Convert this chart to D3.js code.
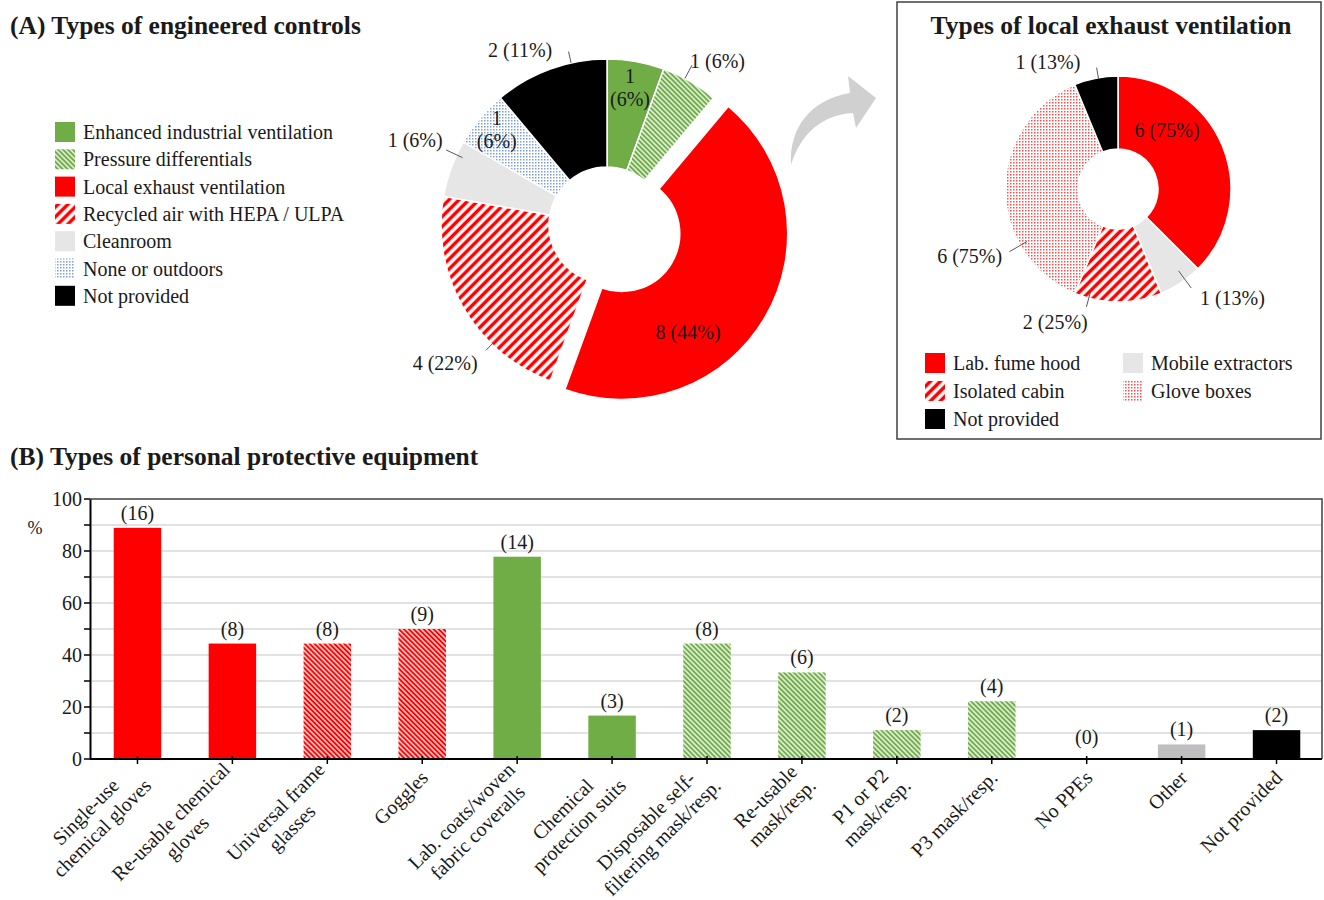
<!DOCTYPE html>
<html>
<head>
<meta charset="utf-8">
<script src="https://cdn.jsdelivr.net/npm/d3@7"></script>
<style>
body { margin: 0; background: #fff; }
text { font-family: "Liberation Serif", "Times New Roman", serif; fill: #1a1a1a; }
</style>
</head>
<body>
<svg id="chart" width="1324" height="900"></svg>
<script>
// ---- data: (A) engineered controls
var controlNames = ["Enhanced industrial ventilation", "Pressure differentials", "Local exhaust ventilation",
    "Recycled air with HEPA / ULPA", "Cleanroom", "None or outdoors", "Not provided"];
var controlCounts = [1, 1, 8, 4, 1, 1, 2];
var controlPct = [6, 6, 44, 22, 6, 6, 11];

// ---- data: local exhaust ventilation inset
var levNames = ["Lab. fume hood", "Mobile extractors", "Isolated cabin", "Glove boxes", "Not provided"];
var levCounts = [6, 1, 2, 6, 1];
var levPct = [75, 13, 25, 75, 13];

// ---- data: (B) personal protective equipment
var ppeLabels = [["Single-use", "chemical gloves"], ["Re-usable chemical", "gloves"], ["Universal frame", "glasses"],
    ["Goggles"], ["Lab. coats/woven", "fabric coveralls"], ["Chemical", "protection suits"],
    ["Disposable self-", "filtering mask/resp."], ["Re-usable", "mask/resp."], ["P1 or P2", "mask/resp."],
    ["P3 mask/resp."], ["No PPEs"], ["Other"], ["Not provided"]];
var ppeCounts = [16, 8, 8, 9, 14, 3, 8, 6, 2, 4, 0, 1, 2];
var ppePct = [88.9, 44.4, 44.4, 50, 77.8, 16.7, 44.4, 33.3, 11.1, 22.2, 0, 5.6, 11.1];
var ppeGroup = ["gloves", "gloves", "eyes", "eyes", "body", "body", "resp", "resp", "resp", "resp", "none", "other", "na"];
var yTicks = [0, 20, 40, 60, 80, 100];

// ---- styles
var controlFill = ["#70ad47", "url(#greenHatch)", "#ff0000", "url(#redStripe)", "#e6e6e6", "url(#blueDots)", "#000000"];
var levFill = ["#ff0000", "#e6e6e6", "url(#redStripe)", "url(#pinkDots)", "#000000"];
var groupFill = {gloves: "#ff0000", eyes: "url(#redHatch)", body: "#70ad47", resp: "url(#greenHatch)",
    none: "none", other: "#bfbfbf", na: "#000000"};

// label placement per slice (angle in degrees, radius as fraction of outer radius)
var controlLabelSpots = [
    {inside: true, a: 9.5, r: 0.84},
    {a: 34, r: 1.19, la: 28, l0: 1.0, l1: 1.09},
    {inside: true, a: 146, r: 0.715},
    {a: 229.6, r: 1.28, la: 224, l0: 0.96, l1: 1.05},
    {a: 294, r: 1.265, la: 295, l0: 0.96, l1: 1.07},
    {inside: true, a: 311, r: 0.88},
    {a: 333.6, r: 1.177, la: 347.5, l0: 1.0, l1: 1.07}
];
var levLabelSpots = [
    {inside: true, a: 39.7, r: 0.68},
    {a: 133.7, r: 1.40, la: 143.5, l0: 0.9, l1: 1.09},
    {a: 205.3, r: 1.30, la: 195, l0: 0.94, l1: 1.08},
    {a: 245.7, r: 1.44, la: 240, l0: 0.93, l1: 1.11},
    {a: 331, r: 1.28, la: 350, l0: 0.99, l1: 1.09}
];

var svg = d3.select("#chart");
var defs = svg.append("defs");

function hatch(id, color, size, width, angle) {
    var p = defs.append("pattern")
        .attr("id", id)
        .attr("patternUnits", "userSpaceOnUse")
        .attr("width", size).attr("height", size)
        .attr("patternTransform", "rotate(" + angle + ")");
    p.append("rect").attr("width", size).attr("height", size).attr("fill", "#fff");
    p.append("line").attr("x1", size / 2).attr("x2", size / 2).attr("y1", 0).attr("y2", size)
        .attr("stroke", color).attr("stroke-width", width);
}
function dots(id, color, size, dot) {
    var p = defs.append("pattern")
        .attr("id", id)
        .attr("patternUnits", "userSpaceOnUse")
        .attr("width", size).attr("height", size);
    p.append("rect").attr("width", size).attr("height", size).attr("fill", "#fff");
    p.append("rect").attr("width", dot).attr("height", dot).attr("fill", color);
}
hatch("greenHatch", "#70ad47", 3.5, 2.2, -45);
hatch("redHatch", "#ff0000", 3.5, 2.2, -45);
hatch("redStripe", "#ff0000", 7, 3.5, 45);
dots("blueDots", "#7d9ddb", 3, 1.5);
dots("pinkDots", "#ff4d4d", 3, 1.5);

function polar(cx, cy, R, deg, f) {
    var t = deg * Math.PI / 180;
    return [cx + f * R * Math.sin(t), cy - f * R * Math.cos(t)];
}

function drawDonut(cx, cy, R, r0, counts, pct, fills, spots, explode) {
    var pie = d3.pie().sort(null).value(function(d) { return d; });
    var arc = d3.arc().innerRadius(r0).outerRadius(R);
    var arcs = pie(counts);
    var g = svg.append("g");

    arcs.forEach(function(d, i) {
        var mid = (d.startAngle + d.endAngle) / 2;
        var off = (explode === i) ? 17 : 0;
        var ox = off * Math.sin(mid), oy = -off * Math.cos(mid);
        g.append("path")
            .attr("d", arc(d))
            .attr("transform", "translate(" + (cx + ox) + "," + (cy + oy) + ")")
            .attr("fill", fills[i])
            .attr("stroke", "#fff")
            .attr("stroke-width", 1.5);

        var s = spots[i];
        var pos = polar(cx + ox, cy + oy, R, s.a, s.r);
        var txt = counts[i] + " (" + pct[i] + "%)";
        if (s.inside && (d.endAngle - d.startAngle) < 0.5) {
            g.append("text").attr("x", pos[0]).attr("y", pos[1] - 11.5).attr("dy", "0.35em")
                .attr("text-anchor", "middle").style("font-size", "20px").text(counts[i]);
            g.append("text").attr("x", pos[0]).attr("y", pos[1] + 11.5).attr("dy", "0.35em")
                .attr("text-anchor", "middle").style("font-size", "20px").text("(" + pct[i] + "%)");
        } else {
            g.append("text").attr("x", pos[0]).attr("y", pos[1]).attr("dy", "0.35em")
                .attr("text-anchor", "middle").style("font-size", "20px").text(txt);
        }
        if (!s.inside) {
            var p0 = polar(cx, cy, R, s.la, s.l0), p1 = polar(cx, cy, R, s.la, s.l1);
            g.append("line")
                .attr("x1", p0[0]).attr("y1", p0[1]).attr("x2", p1[0]).attr("y2", p1[1])
                .attr("stroke", "#595959").attr("stroke-width", 1);
        }
    });
}

// ---- (A) title + legend
svg.append("text").attr("x", 10).attr("y", 34)
    .style("font-size", "25.5px").style("font-weight", "bold")
    .text("(A) Types of engineered controls");

var legA = svg.append("g");
controlNames.forEach(function(name, i) {
    var yc = 132 + i * 27.3;
    legA.append("rect").attr("x", 55).attr("y", yc - 10).attr("width", 20).attr("height", 20)
        .attr("fill", controlFill[i]);
    legA.append("text").attr("x", 83).attr("y", yc).attr("dy", "0.35em")
        .style("font-size", "20px").text(name);
});

drawDonut(607, 225, 166, 58, controlCounts, controlPct, controlFill, controlLabelSpots, 2);

// curved arrow towards the inset
svg.append("path")
    .attr("d", "M791,165 C789,128 810,100 850,93 L848,76 L876,98 L856,128 L853,113 C822,115 801,133 791,165 Z")
    .attr("fill", "#d0d0d0");

// ---- inset
svg.append("rect").attr("x", 897).attr("y", 2).attr("width", 424).attr("height", 437)
    .attr("fill", "none").attr("stroke", "#404040").attr("stroke-width", 1.5);
svg.append("text").attr("x", 1111).attr("y", 34).attr("text-anchor", "middle")
    .style("font-size", "25.5px").style("font-weight", "bold")
    .text("Types of local exhaust ventilation");

drawDonut(1118, 189, 113, 40, levCounts, levPct, levFill, levLabelSpots, -1);

var legI = svg.append("g");
levNames.forEach(function(name, i) {
    var col = i % 2, row = Math.floor(i / 2);
    var x0 = col === 0 ? 925 : 1123;
    var yc = 363 + row * 28;
    legI.append("rect").attr("x", x0).attr("y", yc - 10).attr("width", 20).attr("height", 20)
        .attr("fill", levFill[i]);
    legI.append("text").attr("x", x0 + 28).attr("y", yc).attr("dy", "0.35em")
        .style("font-size", "20px").text(name);
});

// ---- (B) bar chart
svg.append("text").attr("x", 10).attr("y", 465)
    .style("font-size", "25.5px").style("font-weight", "bold")
    .text("(B) Types of personal protective equipment");

var x = d3.scaleBand().domain(d3.range(ppeCounts.length)).range([90, 1324])
    .paddingInner(0.5).paddingOuter(0.25);
var y = d3.scaleLinear().domain([0, 100]).range([759, 499]);
var bars = svg.append("g");

// gridlines every 10
bars.selectAll(".grid").data(d3.range(10, 100, 10)).enter().append("line")
    .attr("x1", 90).attr("x2", 1322)
    .attr("y1", function(d) { return y(d); }).attr("y2", function(d) { return y(d); })
    .attr("stroke", "#d9d9d9").attr("stroke-width", 1.5);

// frame top and right
bars.append("path").attr("d", "M90," + y(100) + "H1322V" + y(0))
    .attr("fill", "none").attr("stroke", "#404040").attr("stroke-width", 1.5);

bars.selectAll(".bar").data(ppePct).enter().append("rect")
    .attr("x", function(d, i) { return x(i); })
    .attr("width", x.bandwidth())
    .attr("y", function(d) { return y(d); })
    .attr("height", function(d) { return y(0) - y(d); })
    .attr("fill", function(d, i) { return groupFill[ppeGroup[i]]; });

bars.selectAll(".val").data(ppeCounts).enter().append("text")
    .attr("x", function(d, i) { return x(i) + x.bandwidth() / 2; })
    .attr("y", function(d, i) { return y(ppePct[i]) - (d === 0 ? 15 : 8); })
    .attr("text-anchor", "middle").style("font-size", "20px")
    .text(function(d) { return "(" + d + ")"; });

// y axis
var yAxis = bars.append("g").attr("transform", "translate(90,0)")
    .call(d3.axisLeft(y).tickValues(yTicks).tickSize(0).tickPadding(8));
yAxis.select(".domain").attr("stroke", "#000").attr("stroke-width", 2);
yAxis.selectAll("text").style("font-size", "20px").style("font-family", "Liberation Serif").attr("fill", "#1a1a1a");
bars.selectAll(".ytick").data(d3.range(0, 101, 10)).enter().append("line")
    .attr("x1", 84).attr("x2", 90)
    .attr("y1", function(d) { return y(d); }).attr("y2", function(d) { return y(d); })
    .attr("stroke", "#000").attr("stroke-width", 1.5);

// x axis
bars.append("line").attr("x1", 90).attr("x2", 1322).attr("y1", y(0)).attr("y2", y(0))
    .attr("stroke", "#000").attr("stroke-width", 2);
bars.selectAll(".xtick").data(d3.range(ppeCounts.length)).enter().append("line")
    .attr("x1", function(d) { return x(d) + x.bandwidth() / 2; })
    .attr("x2", function(d) { return x(d) + x.bandwidth() / 2; })
    .attr("y1", y(0) - 3).attr("y2", y(0) + 5)
    .attr("stroke", "#000").attr("stroke-width", 1.5);

bars.append("text").attr("x", 35).attr("y", 528).attr("dy", "0.35em").attr("text-anchor", "middle")
    .style("font-size", "18px").text("%");

// rotated category labels
ppeLabels.forEach(function(lines, i) {
    var cxTick = x(i) + x.bandwidth() / 2;
    var g = bars.append("g")
        .attr("transform", "translate(" + (cxTick + 2) + "," + 774 + ") rotate(-45)");
    var n = lines.length;
    var texts = lines.map(function(line, j) {
        return g.append("text")
            .attr("y", (j - (n - 1) / 2) * 23)
            .attr("dy", "0.35em")
            .attr("text-anchor", "middle")
            .style("font-size", "20px")
            .text(line);
    });
    var maxW = d3.max(texts, function(t) { return t.node().getComputedTextLength(); });
    texts.forEach(function(t) { t.attr("x", -maxW / 2); });
});
</script>
</body>
</html>
